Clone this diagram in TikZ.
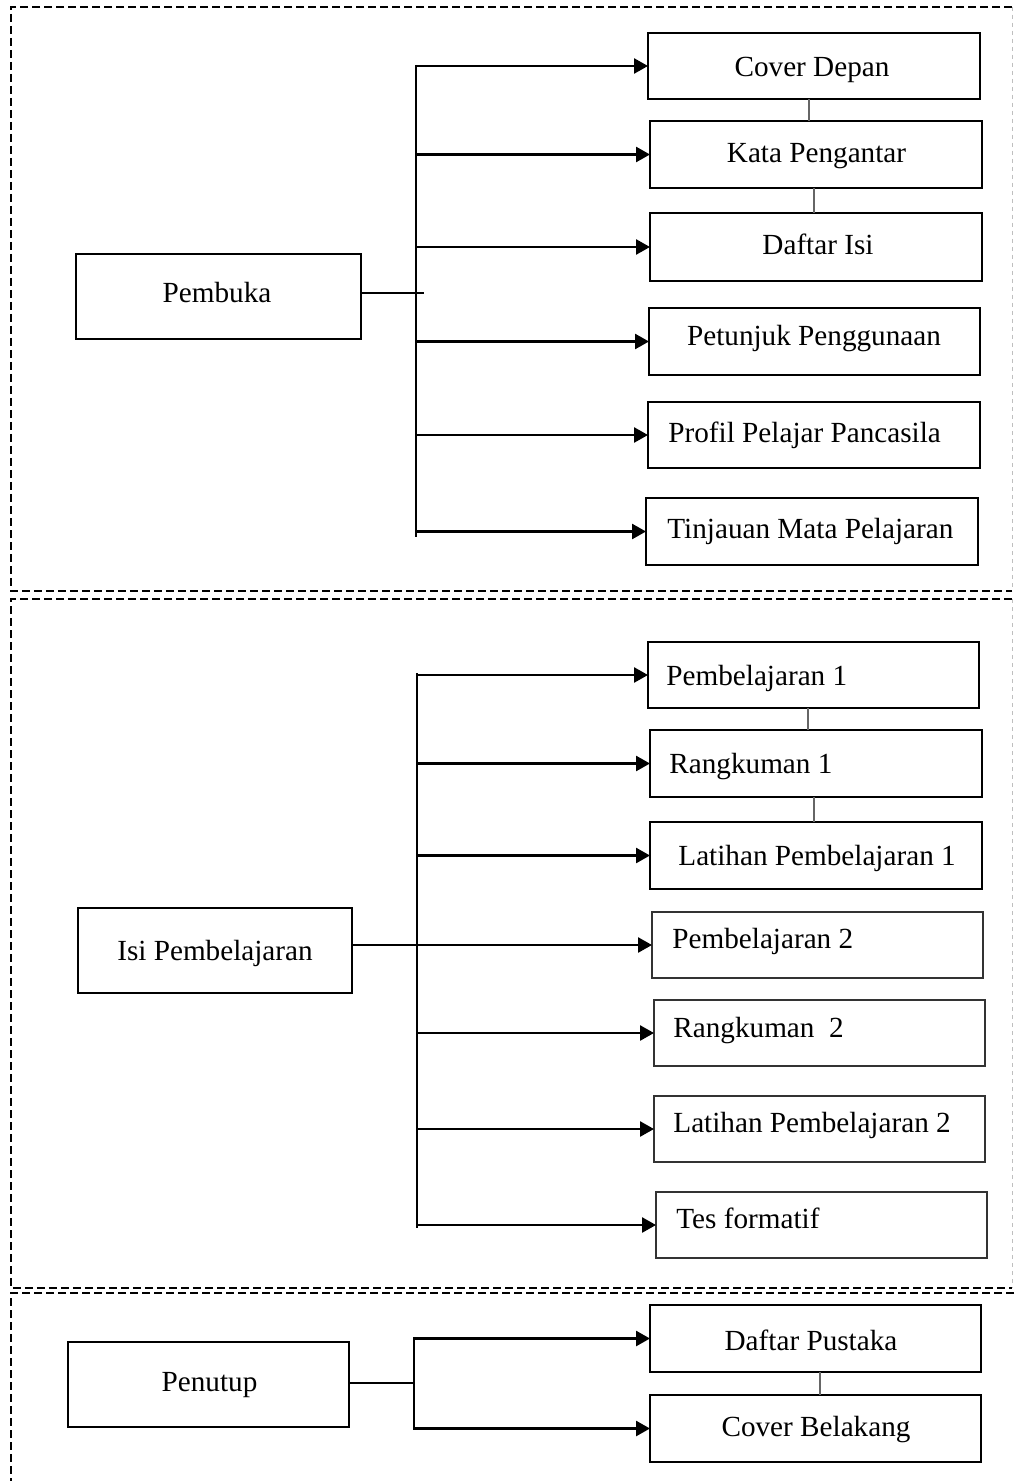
\documentclass[tikz,border=0pt]{standalone}
\usepackage{fontspec}
\setmainfont{Liberation Serif}
\usetikzlibrary{arrows.meta}
\newcommand\mkbox[6][box]{\node[#1, minimum width={(#4-#2)*0.5pt}, minimum height={(#5-#3)*0.5pt}] (#6) at ({(#2+#4)/2},{(#3+#5)/2}) {};}
\begin{document}
\begin{tikzpicture}[x=0.5pt,y=-0.5pt,
 box/.style={draw=black, line width=1.3pt, inner sep=0pt, outer sep=0pt},
 thinbox/.style={draw=black!80, line width=0.75pt, inner sep=0pt, outer sep=0pt},
 lbl/.style={inner sep=0pt, font=\fontsize{14.6}{17}\selectfont},
 conn/.style={line width=1.3pt},
 arr/.style={conn, -{Triangle[length=7pt,width=7.5pt]}},
 link/.style={line width=0.7pt, draw=black!60},
 frame/.style={dash pattern=on 4pt off 2pt, line width=1.1pt},
 frameR/.style={dash pattern=on 2pt off 2pt, line width=0.5pt, draw=black!25}]
\useasboundingbox (0,0) rectangle (1014,1481);
\fill[white] (0,0) rectangle (1014,1481);
\begin{scope}
\clip (0,0) rectangle (1014,1481);
% frames
\draw[frame] (1012,7) -- (11,7) -- (11,591) -- (1012,591);
\draw[frameR] (1012,7) -- (1012,591);
\draw[frame] (1012,599) -- (11,599) -- (11,1288) -- (1012,1288);
\draw[frameR] (1012,599) -- (1012,1288);
\draw[frame] (1014,1293) -- (11,1293) -- (11,1500);
\end{scope}

% ---------- Section 1 ----------
\mkbox{76}{254}{361}{339}{pembuka}
\mkbox{648}{33}{980}{99}{cover}
\mkbox{650}{121}{982}{188}{kata}
\mkbox{650}{213}{982}{281}{daftar}
\mkbox{649}{308}{980}{375}{petunjuk}
\mkbox{648}{402}{980}{468}{profil}
\mkbox{646}{498}{978}{565}{tinjauan}
\node[lbl, anchor=base] (tpembuka) at (217,303) {Pembuka};
\node[lbl, anchor=base] (tcover) at (812,77) {Cover Depan};
\node[lbl, anchor=base] (tkata) at (816.5,163) {Kata Pengantar};
\node[lbl, anchor=base] (tdaftar) at (818,255) {Daftar Isi};
\node[lbl, anchor=base] (tpetunjuk) at (814,345) {Petunjuk Penggunaan};
\node[lbl, anchor=base west] (tprofil) at (668,442) {Profil Pelajar Pancasila};
\node[lbl, anchor=base west] (ttinjauan) at (667,538) {Tinjauan Mata Pelajaran};

\coordinate (t1top) at (416,65);
\coordinate (t1bot) at (416,537);
\coordinate (j1) at (424,293);
\coordinate (l1) at (809,0);
\coordinate (l2) at (814,0);
\draw[conn] (t1top) -- (t1bot);
\draw[conn] (j1 -| pembuka.east) -- (j1);
\foreach \b in {cover,kata,daftar,petunjuk,profil,tinjauan}
  \draw[arr] (t1top |- \b.west) -- (\b.west);
\draw[link] (cover.south -| l1) -- (kata.north -| l1);
\draw[link] (kata.south -| l2) -- (daftar.north -| l2);

% ---------- Section 2 ----------
\mkbox{78}{908}{352}{993}{isi}
\mkbox{648}{642}{979}{708}{pemb1}
\mkbox{650}{730}{982}{797}{rang1}
\mkbox{650}{822}{982}{889}{lat1}
\mkbox[thinbox]{652}{912}{983}{978}{pemb2}
\mkbox[thinbox]{654}{1000}{985}{1066}{rang2}
\mkbox[thinbox]{654}{1096}{985}{1162}{lat2}
\mkbox[thinbox]{656}{1192}{987}{1258}{tes}
\node[lbl, anchor=base] (tisi) at (215,960) {Isi Pembelajaran};
\node[lbl, anchor=base west] (tpemb1) at (666,685) {Pembelajaran 1};
\node[lbl, anchor=base west] (trang1) at (669,773) {Rangkuman 1};
\node[lbl, anchor=base west] (tlat1) at (678,865) {Latihan Pembelajaran 1};
\node[lbl, anchor=base west] (tpemb2) at (672,948) {Pembelajaran 2};
\node[lbl, anchor=base west] (trang2) at (673,1037) {Rangkuman~~2};
\node[lbl, anchor=base west] (tlat2) at (673,1132) {Latihan Pembelajaran 2};
\node[lbl, anchor=base west] (ttes) at (676,1228) {Tes formatif};

\coordinate (t2top) at (417,673);
\coordinate (t2bot) at (417,1228);
\coordinate (l3) at (808,0);
\coordinate (l4) at (814,0);
\draw[conn] (t2top) -- (t2bot);
\foreach \b in {pemb1,rang1,lat1,rang2,lat2,tes}
  \draw[arr] (t2top |- \b.west) -- (\b.west);
\draw[arr] (isi.east |- pemb2.west) -- (pemb2.west);
\draw[link] (pemb1.south -| l3) -- (rang1.north -| l3);
\draw[link] (rang1.south -| l4) -- (lat1.north -| l4);

% ---------- Section 3 ----------
\mkbox{68}{1342}{349}{1427}{penutup}
\mkbox{650}{1305}{981}{1372}{pustaka}
\mkbox{650}{1395}{981}{1462}{belakang}
\node[lbl, anchor=base] (tpenutup) at (209.5,1391) {Penutup};
\node[lbl, anchor=base] (tpustaka) at (811,1350) {Daftar Pustaka};
\node[lbl, anchor=base] (tbelakang) at (816,1436) {Cover Belakang};

\coordinate (j3) at (414,1383);
\coordinate (l5) at (820,0);
\draw[conn] (j3 -| penutup.east) -- (j3);
\draw[arr] (j3 |- belakang.west) -- (j3 |- pustaka.west) -- (pustaka.west);
\draw[arr] (j3) -- (j3 |- belakang.west) -- (belakang.west);
\draw[link] (pustaka.south -| l5) -- (belakang.north -| l5);
\end{tikzpicture}
\end{document}
